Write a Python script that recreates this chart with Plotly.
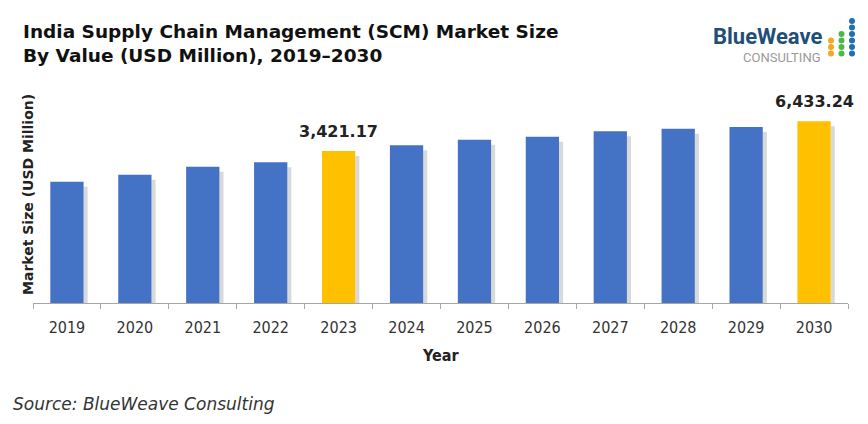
import math
import plotly.graph_objects as go

years = ["2019", "2020", "2021", "2022", "2023", "2024",
         "2025", "2026", "2027", "2028", "2029", "2030"]
market_size = [1781, 2067, 2450, 2691, 3421.17, 3863,
               4350, 4638, 5202, 5498, 5700, 6433.24]
highlight = ["2023", "2030"]

BLUE = "#4472C4"
GOLD = "#FFC000"

# the page puts the figure 8px in from the top-left corner
OFF = 8
W, H = 868 - OFF, 424 - OFF
L, R, T, B = 33 - OFF, 20, 101 - OFF, 424 - 303
PW, PH = W - L - R, H - T - B


def px(x):
    # page pixel -> paper x
    return (x - OFF - L) / PW


def py(y):
    # page pixel -> paper y
    return (H - B - (y - OFF)) / PH


colors = [GOLD if y in highlight else BLUE for y in years]

fig = go.Figure()

# soft drop shadow to the right of each bar
fig.add_trace(go.Bar(x=years, y=[v * 0.9 for v in market_size],
                     width=0.06, offset=0.245,
                     marker=dict(color="rgba(0,0,0,0.15)", line=dict(width=0)),
                     hoverinfo="skip", showlegend=False))

fig.add_trace(go.Bar(x=years, y=market_size,
                     width=0.49,
                     marker=dict(color=colors, line=dict(width=0)),
                     name="Market Size", showlegend=False))

for i, (yr, v) in enumerate(zip(years, market_size)):
    if yr in highlight:
        fig.add_annotation(x=i, y=math.log10(v), xref="x", yref="y",
                           text=f"{v:,.2f}",
                           showarrow=False, xanchor="center",
                           yanchor="bottom", yshift=8,
                           font=dict(family="DejaVu Sans", size=16,
                                     color="#222222", weight="bold"))

fig.update_layout(
    width=W, height=H,
    margin=dict(l=L, r=R, t=T, b=B),
    plot_bgcolor="white", paper_bgcolor="white",
    barmode="overlay",
    xaxis=dict(type="category", categoryorder="array", categoryarray=years,
               range=[-0.5, len(years) - 0.5], autorange=False,
               showline=True, linecolor="#a6a6a6",
               linewidth=1, ticks="outside", tickson="boundaries",
               ticklen=5, tickcolor="#a6a6a6", showgrid=False,
               ticklabelstandoff=10, tickangle=0,
               tickfont=dict(family="DejaVu Sans Condensed, DejaVu Sans",
                             size=16, color="#333333")),
    yaxis=dict(type="log", range=[2.1307, 2.1307 + 202 / 108.3],
               visible=False, showgrid=False),
)

# titles and text
fig.add_annotation(x=px(21), y=py(19), xref="paper", yref="paper",
                   xanchor="left", yanchor="top", align="left",
                   showarrow=False,
                   text="India Supply Chain Management (SCM) Market Size<br>"
                        "By Value (USD Million), 2019\u20132030",
                   font=dict(family="DejaVu Sans", size=18.5, color="#111111",
                             weight="bold"))

fig.add_annotation(x=px(28), y=py(195), xref="paper", yref="paper",
                   xanchor="center", yanchor="middle",
                   textangle=-90, showarrow=False,
                   text="Market Size (USD Million)",
                   font=dict(family="DejaVu Sans", size=14, color="#222222",
                             weight="bold"))

fig.add_annotation(x=px(440), y=py(355), xref="paper", yref="paper",
                   xanchor="center", yanchor="middle",
                   showarrow=False, text="Year",
                   font=dict(family="DejaVu Sans Condensed, DejaVu Sans",
                             size=16, color="#222222", weight="bold"))

fig.add_annotation(x=px(11), y=py(404), xref="paper", yref="paper",
                   xanchor="left", yanchor="middle", showarrow=False,
                   text="Source: BlueWeave Consulting",
                   font=dict(family="DejaVu Sans", size=17, color="#333333",
                             style="italic"))

# logo
fig.add_annotation(x=px(824), y=py(37), xref="paper", yref="paper",
                   xanchor="right", yanchor="middle", showarrow=False,
                   text="BlueWeave",
                   font=dict(family="Roboto", size=22, color="#1F4E79",
                             weight="bold"))
fig.add_annotation(x=px(823), y=py(57), xref="paper", yref="paper",
                   xanchor="right", yanchor="middle", showarrow=False,
                   text="CONSULTING",
                   font=dict(family="Roboto", size=13, color="#9a9a9a"))

dot_cols = [(831, "#F5A623", 3), (841.5, "#4CB848", 4), (852, "#1F6FB5", 6)]
for cx, col, n in dot_cols:
    for i in range(n):
        cy = 53.5 - i * 6.5
        fig.add_shape(type="circle", xref="paper", yref="paper",
                      x0=px(cx - 3), x1=px(cx + 3),
                      y0=py(cy + 3), y1=py(cy - 3),
                      fillcolor=col, line=dict(width=0))

fig.write_html("out.html")
